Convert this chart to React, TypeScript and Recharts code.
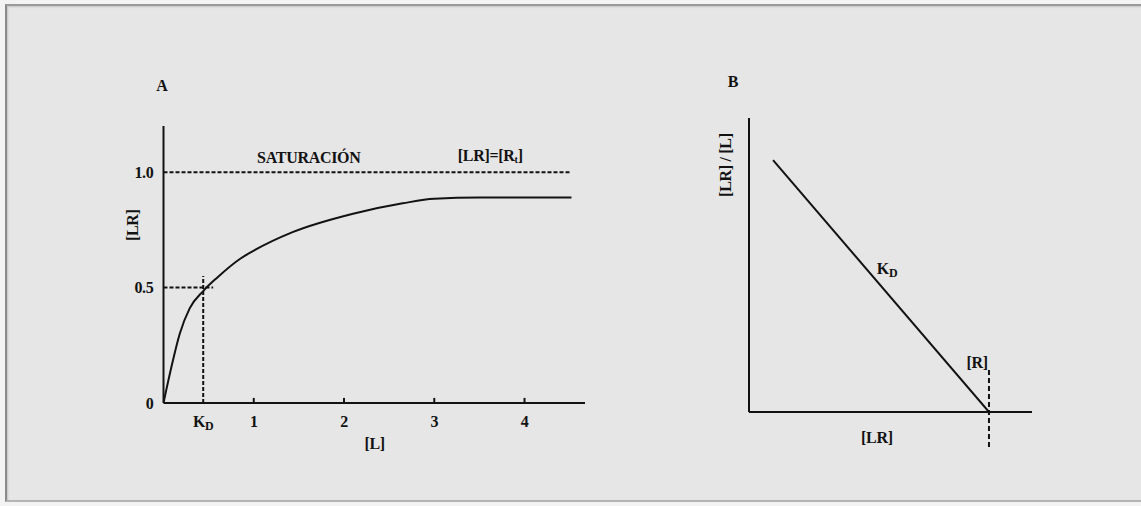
import React from 'react';
import { LineChart, Line, XAxis, YAxis, ReferenceLine, ReferenceDot } from 'recharts';

// panel A: saturation curve
const bindingCurve = [
  { x: 0, y: 0 },
  { x: 0.09, y: 0.16 },
  { x: 0.18, y: 0.3 },
  { x: 0.29, y: 0.41 },
  { x: 0.44, y: 0.485 },
  { x: 0.6, y: 0.545 },
  { x: 0.85, y: 0.625 },
  { x: 1.0, y: 0.66 },
  { x: 1.43, y: 0.74 },
  { x: 2.1, y: 0.82 },
  { x: 2.65, y: 0.865 },
  { x: 3.0, y: 0.885 },
  { x: 3.5, y: 0.89 },
  { x: 4.0, y: 0.89 },
  { x: 4.52, y: 0.89 },
];
const saturationLine = [{ x: 0, y: 1.0 }, { x: 4.52, y: 1.0 }];
const halfLine = [{ x: 0, y: 0.5 }, { x: 0.55, y: 0.5 }];
const kdLine = [{ x: 0.44, y: 0 }, { x: 0.44, y: 0.55 }];
const kdValue = 0.44;
const xTicksA = [kdValue, 1, 2, 3, 4];
const xTickMarksA = [1, 2, 3, 4];
const yTicksA = [0, 0.5, 1.0];
const yTickLabelsA = ['0', '0.5', '1.0'];

// panel B: Scatchard plot
const scatchardLine = [{ x: 0.085, y: 0.857 }, { x: 0.848, y: 0 }];
const rIntercept = 0.848;
const rDashRange = [-0.119, 0.143];

const INK = '#121212';
const FONT = '"Liberation Serif", "DejaVu Serif", serif';

const txt = { fill: INK, fontFamily: FONT, fontWeight: 700 as const, fontSize: 16, letterSpacing: -0.3 };

const YTickA = ({ x, y, payload }: any) => {
  const i = yTicksA.indexOf(payload.value);
  return (
    <text x={x} y={y} dy="0.35em" textAnchor="end" {...txt}>
      {yTickLabelsA[i] ?? payload.value}
    </text>
  );
};

const XTickA = ({ x, y, payload }: any) => {
  if (payload.value === kdValue) {
    return (
      <text x={x} y={y + 16} textAnchor="middle" {...txt}>
        K<tspan fontSize={12} dy={3}>D</tspan>
      </text>
    );
  }
  return (
    <text x={x} y={y + 16} textAnchor="middle" {...txt}>
      {payload.value}
    </text>
  );
};

const note = (content: React.ReactNode, rotate = false, size = 16) => (p: any) => (
  <text
    x={p.cx}
    y={p.cy}
    dy="0.35em"
    textAnchor="middle"
    {...txt}
    fontSize={size}
    transform={rotate ? `rotate(-90 ${p.cx} ${p.cy})` : undefined}
  >
    {content}
  </text>
);

export default function App() {
  return (
    <div style={{ position: 'absolute', left: 0, top: 0, width: 1141, height: 506, background: '#f3f3f3', overflow: 'hidden' }}>
      <div style={{
        position: 'absolute', left: 5, top: 4, width: 1140, height: 494,
        background: '#e6e6e6', borderLeft: '2px solid #8a8a8a', borderTop: '2px solid #9a9a9a',
        borderBottom: '2px solid #b4b4b4', boxShadow: 'inset 1px 1px 2px rgba(0,0,0,0.15)',
      }} />

      <div style={{ position: 'absolute', left: 0, top: 0 }}>
        <LineChart width={640} height={506} margin={{ top: 126, right: 55, left: 123.5, bottom: 73 }}>
          <XAxis
            type="number" dataKey="x" domain={[0, 4.67]} ticks={xTicksA} height={30}
            axisLine={{ stroke: INK, strokeWidth: 2 }} tickLine={false} tick={<XTickA />}
            allowDataOverflow
          />
          <YAxis
            type="number" dataKey="y" domain={[0, 1.2]} ticks={yTicksA} width={40}
            axisLine={{ stroke: INK, strokeWidth: 2 }} tickLine={false} tickMargin={4} tick={<YTickA />}
            allowDataOverflow
          />
          {xTickMarksA.map((t) => (
            <ReferenceLine key={t} segment={[{ x: t, y: 0 }, { x: t, y: 0.022 }]} stroke={INK} strokeWidth={2} />
          ))}
          <Line data={saturationLine} dataKey="y" stroke={INK} strokeWidth={2} strokeDasharray="4 2" dot={false} isAnimationActive={false} />
          <Line data={halfLine} dataKey="y" stroke={INK} strokeWidth={2} strokeDasharray="4 2" dot={false} isAnimationActive={false} />
          <Line data={kdLine} dataKey="y" stroke={INK} strokeWidth={2} strokeDasharray="4 2" dot={false} isAnimationActive={false} />
          <Line data={bindingCurve} dataKey="y" type="monotone" stroke={INK} strokeWidth={2} dot={false} isAnimationActive={false} />
          <ReferenceDot x={-0.017} y={1.377} r={1} ifOverflow="visible" shape={note('A')} />
          <ReferenceDot x={1.61} y={1.065} r={1} ifOverflow="visible" shape={note('SATURACIÓN')} />
          <ReferenceDot x={3.62} y={1.074} r={1} ifOverflow="visible"
            shape={note(<>[LR]=[R<tspan fontSize={10} dy={2}>t</tspan><tspan dy={-2}>]</tspan></>)} />
          <ReferenceDot x={-0.34} y={0.77} r={1} ifOverflow="visible" shape={note('[LR]', true)} />
          <ReferenceDot x={2.34} y={-0.173} r={1} ifOverflow="visible" shape={note('[L]')} />
        </LineChart>
      </div>

      <div style={{ position: 'absolute', left: 680, top: 0 }}>
        <LineChart width={461} height={506} margin={{ top: 118, right: 109, left: 59, bottom: 84 }}>
          <XAxis
            type="number" dataKey="x" domain={[0, 1]} height={10} tick={false} tickLine={false}
            axisLine={{ stroke: INK, strokeWidth: 2 }} allowDataOverflow
          />
          <YAxis
            type="number" dataKey="y" domain={[0, 1]} width={10} tick={false} tickLine={false}
            axisLine={{ stroke: INK, strokeWidth: 2 }} allowDataOverflow
          />
          <Line data={scatchardLine} dataKey="y" stroke={INK} strokeWidth={2} dot={false} isAnimationActive={false} />
          <ReferenceLine
            segment={[{ x: rIntercept, y: rDashRange[0] }, { x: rIntercept, y: rDashRange[1] }]}
            ifOverflow="visible" stroke={INK} strokeWidth={2} strokeDasharray="5 3"
          />
          <ReferenceDot x={-0.057} y={1.126} r={1} ifOverflow="visible" shape={note('B')} />
          <ReferenceDot x={0.488} y={0.49} r={1} ifOverflow="visible"
            shape={note(<>K<tspan fontSize={12} dy={3}>D</tspan></>)} />
          <ReferenceDot x={0.806} y={0.17} r={1} ifOverflow="visible" shape={note('[R]')} />
          <ReferenceDot x={0.452} y={-0.088} r={1} ifOverflow="visible" shape={note('[LR]')} />
          <ReferenceDot x={-0.085} y={0.84} r={1} ifOverflow="visible" shape={note('[LR] / [L]', true)} />
        </LineChart>
      </div>
    </div>
  );
}
